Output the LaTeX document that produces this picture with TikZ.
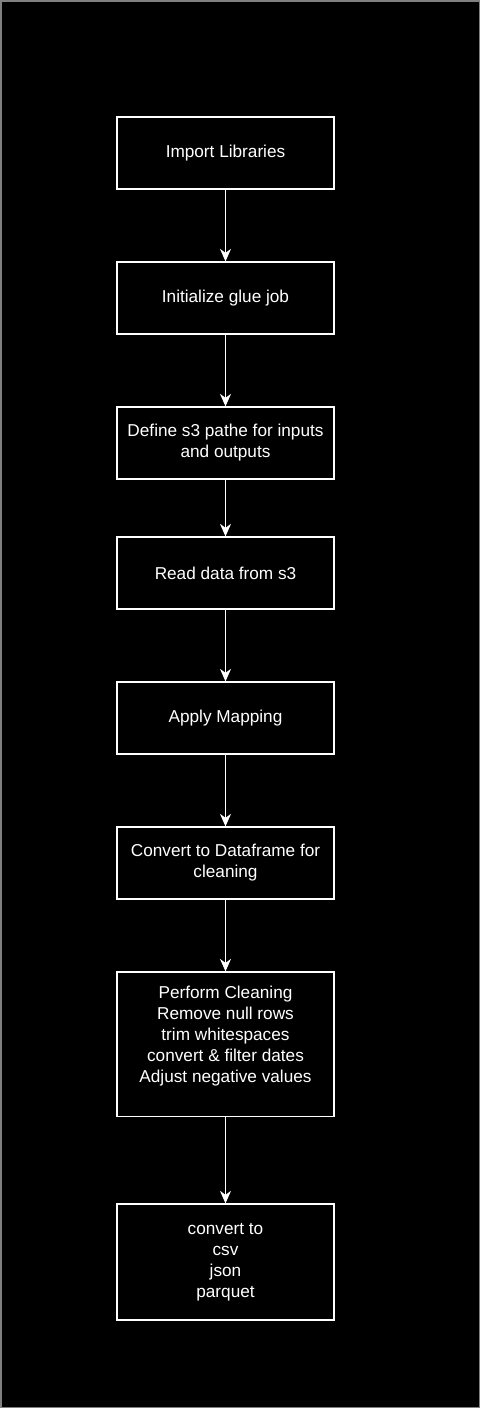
\documentclass[tikz,border=0pt]{standalone}
\usepackage{fontspec}
\setmainfont{Liberation Sans}
\usetikzlibrary{arrows.meta}
\definecolor{bordergray}{HTML}{808080}
\begin{document}
\begin{tikzpicture}[x=1pt,y=-1pt,
  stepbox/.style={draw=white, line width=1.3pt, fill=black, text=white,
    minimum width=217pt, minimum height=72pt, inner sep=0pt, align=center,
    font=\fontsize{17.2}{21}\selectfont},
  flow/.style={draw=white, line width=1.2pt, -{Stealth[length=12.5pt,width=11pt,inset=4pt]}}]
\fill[black] (0,0) rectangle (480,1408);
\useasboundingbox (0,0) rectangle (480,1408);
\draw[bordergray, line width=1.5pt] (0.75,0.75) rectangle (479.25,1407.25);

\node[stepbox] (b1) at (225.5,153) {Import Libraries};
\node[stepbox] (b2) at (225.5,298) {Initialize glue job};
\node[stepbox] (b3) at (225.5,443) {Define s3 pathe for inputs\\and outputs};
\node[stepbox] (b4) at (225.5,573) {Read data from s3};
\node[stepbox] (b5) at (225.5,718) {Apply Mapping};
\node[stepbox] (b6) at (225.5,863) {Convert to Dataframe for\\cleaning};
\node[stepbox, minimum height=144.5pt] (b7) at (225.5,1044.3) {Perform Cleaning\\Remove null rows\\trim whitespaces\\convert \& filter dates\\Adjust negative values\\\mbox{}};
\node[stepbox, minimum height=116pt] (b8) at (225.5,1262) {convert to\\csv\\json\\parquet};

\draw[flow] (b1) -- (b2);
\draw[flow] (b2) -- (b3);
\draw[flow] (b3) -- (b4);
\draw[flow] (b4) -- (b5);
\draw[flow] (b5) -- (b6);
\draw[flow] (b6) -- (b7);
\draw[flow] (b7) -- (b8);
\end{tikzpicture}
\end{document}
